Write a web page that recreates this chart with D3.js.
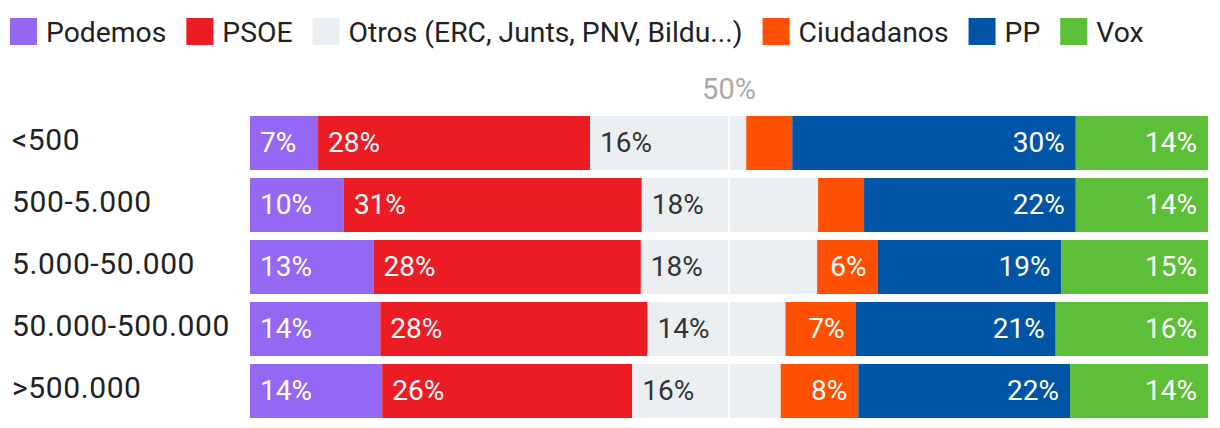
<!DOCTYPE html>
<html><head><meta charset="utf-8">
<script src="https://cdn.jsdelivr.net/npm/d3@7/dist/d3.min.js"></script>
<style>
html,body{margin:0;padding:0;background:#fff;}
svg{display:block;font-family:Roboto, "Noto Sans", sans-serif;}
</style></head>
<body>
<svg id="chart" width="1220" height="428"></svg>
<script>
// ---- data ----
const categories = ["<500", "500-5.000", "5.000-50.000", "50.000-500.000", ">500.000"];
const series = ["Podemos", "PSOE", "Otros (ERC, Junts, PNV, Bildu...)", "Ciudadanos", "PP", "Vox"];
const podemos    = [7.1, 9.8, 12.9, 13.6, 13.8];
const psoe       = [28.4, 31.1, 27.9, 27.9, 26.1];
const otros      = [16.3, 18.4, 18.4, 14.4, 15.5];
const ciudadanos = [4.8, 4.8, 6.3, 7.3, 8.1];
const pp         = [29.6, 22.1, 19.2, 20.9, 22.1];
const vox        = [13.8, 13.8, 15.3, 15.9, 14.4];
const midTick = 50;
const midLabel = "50%";
const colors = ["#9468f2", "#ec1c24", "#eceff2", "#fe5000", "#0055a6", "#5cbf37"];

const seriesValues = [podemos, psoe, otros, ciudadanos, pp, vox];
const rows = categories.map((c, i) => {
  const o = {cat: c};
  series.forEach((s, j) => o[s] = seriesValues[j][i]);
  return o;
});

const svg = d3.select("#chart");
const x = d3.scaleLinear().domain([0, 100]).range([250, 1208]);
const y = d3.scaleBand().domain(categories).range([116, 418]).paddingInner(8/62).paddingOuter(0).align(0);
const stack = d3.stack().keys(series).offset(d3.stackOffsetExpand);
const stacked = stack(rows);
const xs = d3.scaleLinear().domain([0, 1]).range(x.range());
const color = d3.scaleOrdinal().domain(series).range(colors);

// ---- legend ----
const legend = svg.append("g");
let lx = 10;
series.forEach(s => {
  const g = legend.append("g").attr("transform", `translate(${lx},0)`);
  g.append("rect").attr("x", 0).attr("y", 18).attr("width", 27).attr("height", 27).attr("fill", color(s));
  const t = g.append("text").attr("x", 36).attr("y", 42).attr("font-size", 28.3)
    .attr("fill", "#222").text(s);
  lx += 36 + t.node().getComputedTextLength() + 20;
});

// ---- bars ----
const layers = svg.append("g").selectAll("g").data(stacked).join("g").attr("fill", d => color(d.key));
layers.selectAll("rect").data(d => d.map(v => ({v, key: d.key}))).join("rect")
  .attr("x", d => xs(d.v[0]))
  .attr("y", d => y(d.v.data.cat))
  .attr("width", d => xs(d.v[1]) - xs(d.v[0]))
  .attr("height", y.bandwidth());

// 50% line
svg.append("line")
  .attr("x1", x(midTick)).attr("x2", x(midTick))
  .attr("y1", y(categories[0])).attr("y2", y(categories[categories.length-1]) + y.bandwidth())
  .attr("stroke", "#fff").attr("stroke-width", 2).attr("stroke-opacity", 0.8);
svg.append("text").attr("x", x(midTick)).attr("y", 99).attr("text-anchor", "middle")
  .attr("font-size", 29).attr("fill", "#aaa").text(midLabel);

// ---- value labels ----
const labels = svg.append("g");
stacked.forEach((layer, j) => {
  layer.forEach((v, i) => {
    const val = seriesValues[j][i];
    if (val < 5) return;
    const left = j < 3;
    labels.append("text")
      .attr("x", left ? xs(v[0]) + 10 : xs(v[1]) - 11)
      .attr("y", y(v.data.cat) + 36)
      .attr("text-anchor", left ? "start" : "end")
      .attr("font-size", 28)
      .attr("fill", j === 2 ? "#333" : "#fff")
      .text(Math.round(val) + "%");
  });
});

// ---- category labels ----
svg.append("g").selectAll("text").data(categories).join("text")
  .attr("x", 12).attr("y", d => y(d) + 34)
  .attr("font-size", 30).attr("letter-spacing", 0.6).attr("fill", "#222")
  .text(d => d);
</script>
</body></html>
